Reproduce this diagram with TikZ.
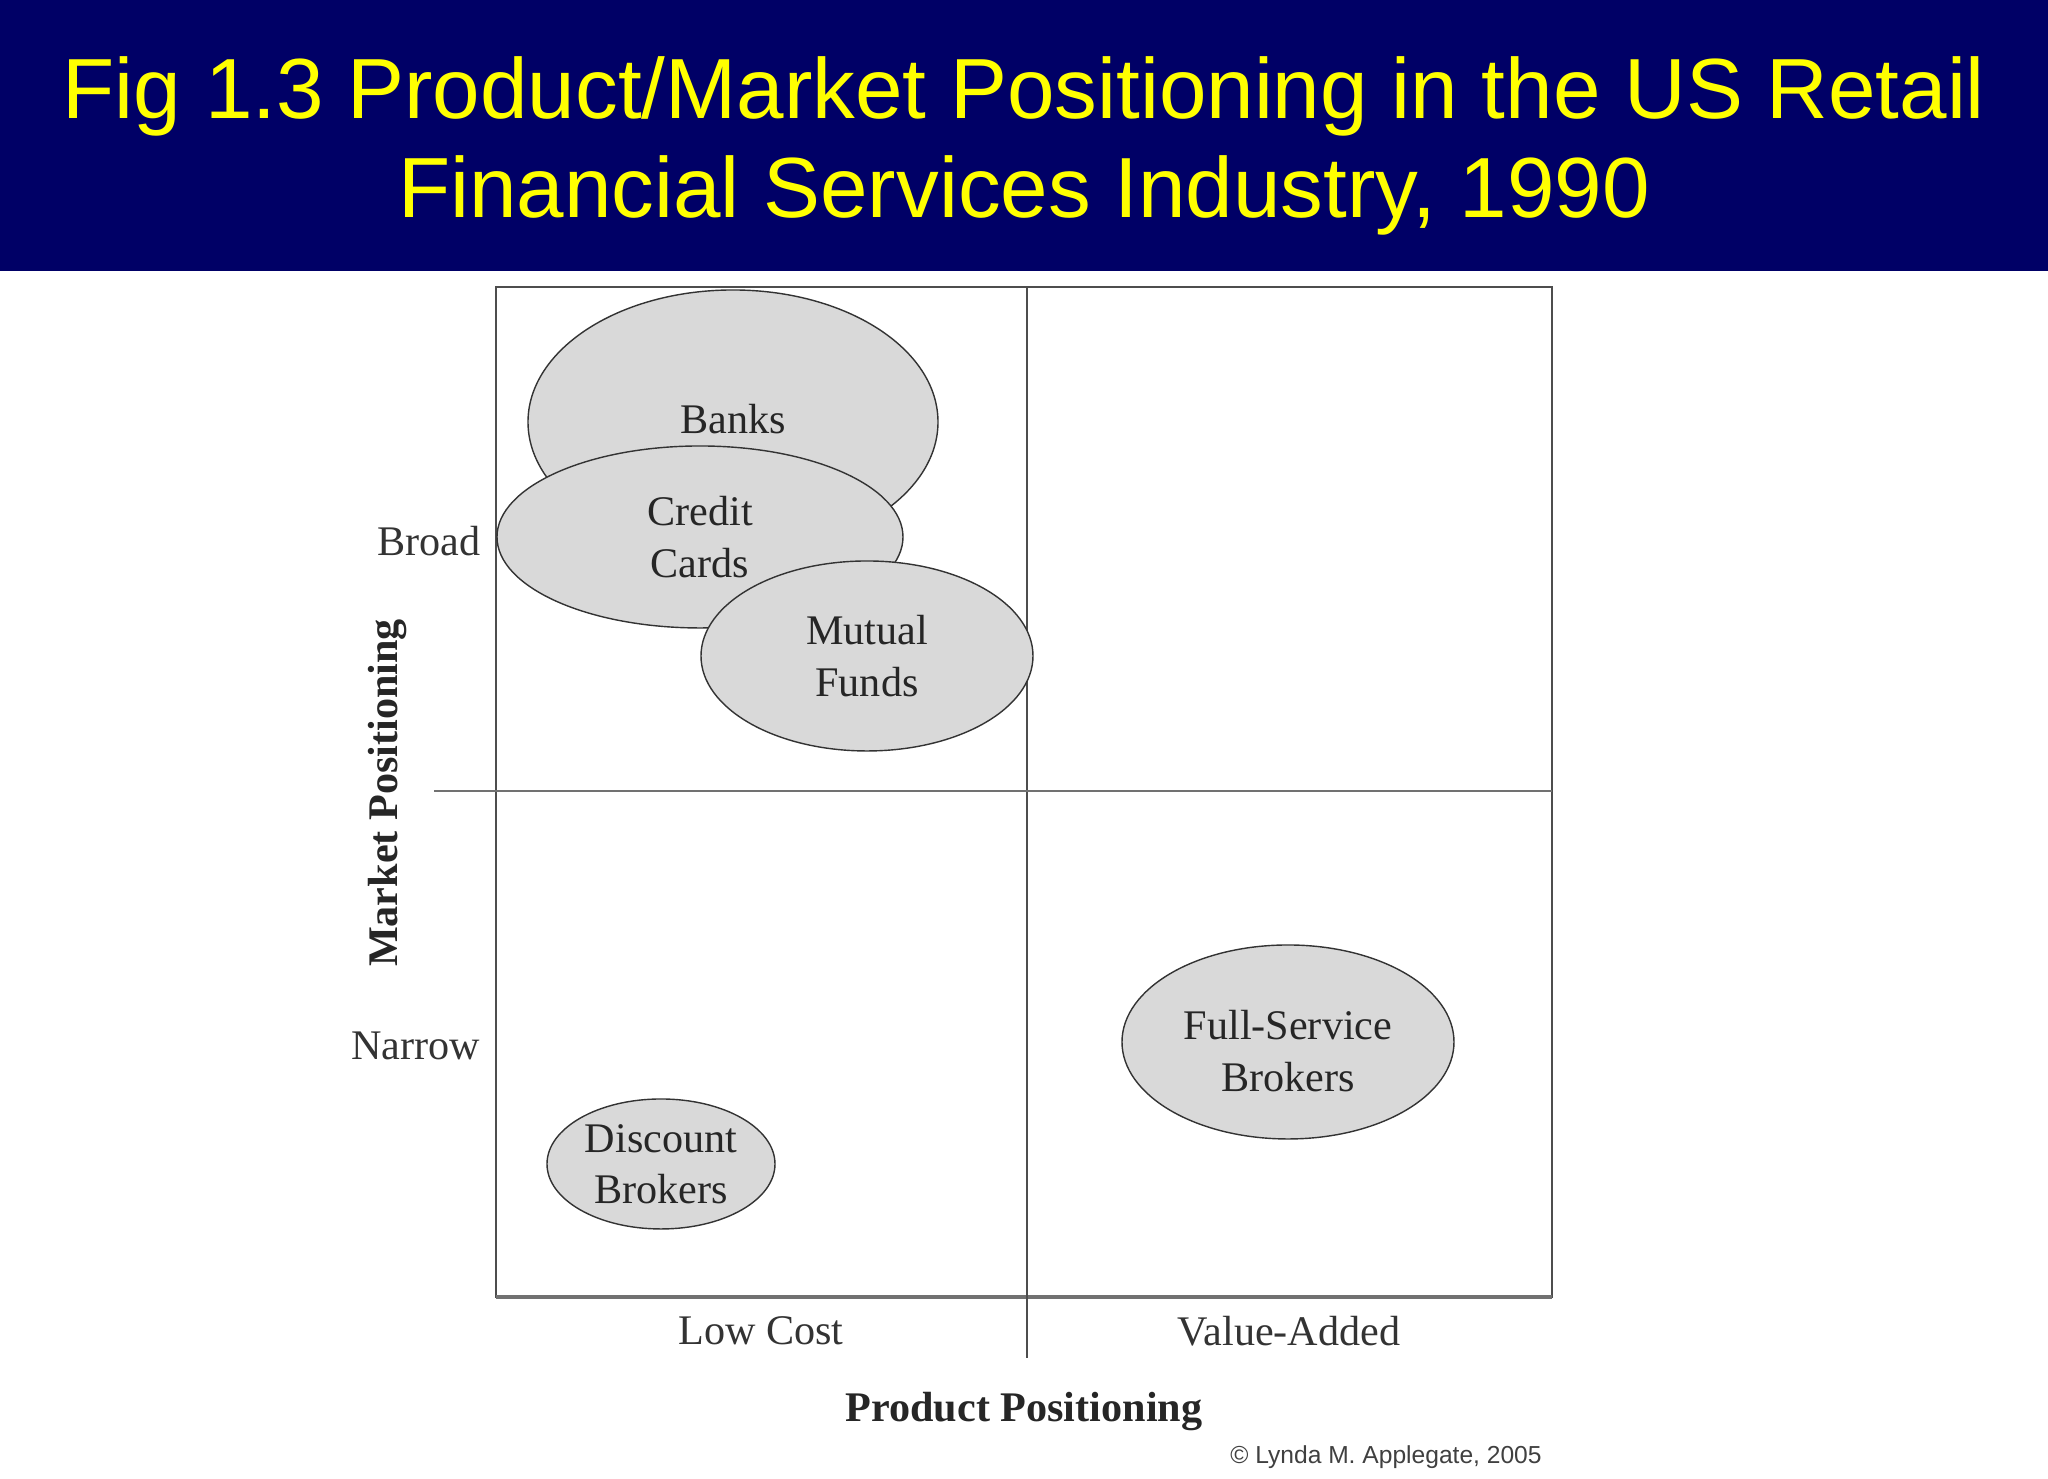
\documentclass[tikz,border=0pt]{standalone}
\usepackage{fontspec}
\setmainfont{Liberation Serif}
\newfontfamily\headfont{Liberation Sans}
\usetikzlibrary{positioning,shapes.geometric}
\definecolor{bandColor}{HTML}{000066}
\definecolor{headColor}{HTML}{FFFF00}
\definecolor{segColor}{HTML}{D9D9D9}
\definecolor{lineColor}{HTML}{4D4D4D}
\tikzset{
	seg/.style={ellipse, draw=black!80, fill=segColor, thin, inner sep=0, align=center,
		font=\fontsize{12}{14.6}\selectfont, text=black!85},
	segtext/.style={align=center, inner sep=0, font=\fontsize{12}{14.6}\selectfont, text=black!85},
	axlab/.style={font=\fontsize{12}{14.6}\selectfont, text=black!80, inner sep=0},
	axtitle/.style={font=\bfseries\fontsize{12}{14.6}\selectfont, text=black!85, inner sep=0}
}

\begin{document}
\begin{tikzpicture}
	\useasboundingbox (0,0) rectangle (20.48,14.79);
	\fill[bandColor] (0,12.08) rectangle (20.48,14.79);
	\node[text=headColor, align=center, font=\headfont\fontsize{24.3}{28.2}\selectfont] (head) at (10.24,13.33)
		{Fig 1.3 Product/Market Positioning in the US Retail\\ Financial Services Industry, 1990};
	% quadrants
	\node[draw=lineColor, semithick, minimum width=10.56cm, minimum height=10.1cm, inner sep=0, outer sep=0] (box) at (10.24,6.87) {};
	\draw[lineColor!80, line width=1.4pt] (box.south west) -- (box.south east);
	\coordinate (vbot) at (10.27,1.21);
	\coordinate (hleft) at (4.34,6.88);
	\draw[lineColor, thin] (vbot |- box.north) -- (vbot);
	\draw[lineColor!80, semithick] (hleft) -- (hleft -| box.east);
	% segments
	\node[seg, minimum width=4.10cm, minimum height=2.64cm] (banks) at (7.33,10.57) {\raisebox{0.065cm}{Banks}};
	\node[seg, minimum width=4.06cm, minimum height=1.82cm] (cards) at (7.00,9.42) {Credit\\ Cards};
	\node[seg, minimum width=3.32cm, minimum height=1.90cm] (funds) at (8.67,8.23) {Mutual\\ Funds};
	\node[seg, minimum width=2.28cm, minimum height=1.30cm] (discount) at (6.61,3.15) {Discount\\ Brokers};
	\node[seg, minimum width=3.32cm, minimum height=1.94cm] (full) at (12.88,4.37) {};
	\node[segtext] (fulltext) at ([yshift=-0.09cm]full.center) {Full-Service\\ Brokers};
	% axis labels
	\node[axlab, anchor=east] (broad) at (4.81,9.38) {Broad};
	\node[axlab, anchor=east] (narrow) at (4.81,4.33) {Narrow};
	\node[axtitle, rotate=90] (market) at (3.88,6.86) {Market Positioning};
	\node[axlab] (low) at (7.61,1.48) {Low Cost};
	\node[axlab] (value) at (12.89,1.48) {Value-Added};
	\node[axtitle] (product) at (10.24,0.67) {Product Positioning};
	\node[font=\headfont\fontsize{7}{9}\selectfont, text=black!75, inner sep=0] (copy) at (13.86,0.22) {© Lynda M. Applegate, 2005};
\end{tikzpicture}
\end{document}
